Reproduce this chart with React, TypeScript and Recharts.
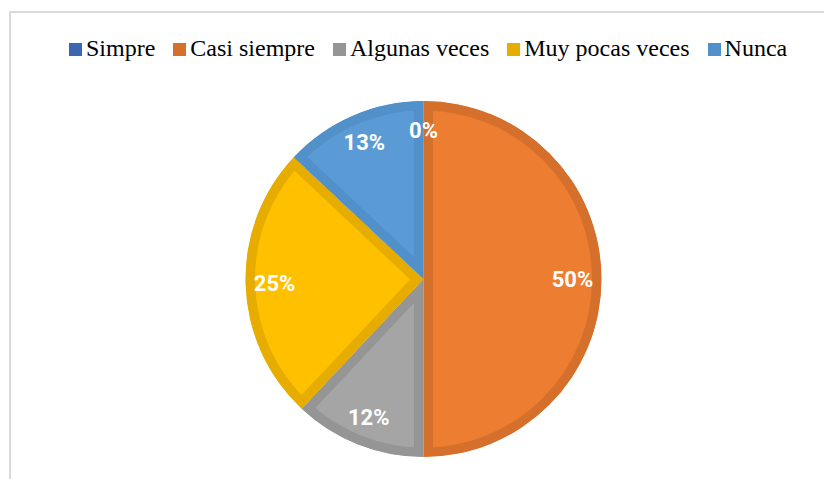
import React from 'react';
import { PieChart, Pie, Cell, Sector } from 'recharts';

// answer categories and their share (%)
const categories = ['Simpre', 'Casi siempre', 'Algunas veces', 'Muy pocas veces', 'Nunca'];
const shares = [0, 50, 12, 25, 13];

const fills = ['#4472C4', '#ED7D31', '#A5A5A5', '#FFC000', '#5B9BD5'];
const borders = ['#3D66B0', '#D5702C', '#959595', '#E6AC00', '#5290CA'];

const data = categories.map((name, i) => ({ name, value: shares[i] }));

const RADIAN = Math.PI / 180;

const renderLabel = (props: any) => {
  const { cx, cy, midAngle, percent } = props;
  const r = 149;
  const x = cx + r * Math.cos(-midAngle * RADIAN);
  const y = cy + r * Math.sin(-midAngle * RADIAN);
  return (
    <text
      x={x}
      y={y}
      fill="#ffffff"
      textAnchor="middle"
      dominantBaseline="central"
      style={{ fontFamily: 'Roboto', fontWeight: 700, fontSize: 22 }}
    >
      {`${Math.round(percent * 100)}%`}
    </text>
  );
};

// slice with an inset border: stroke clipped to the slice itself
const InsetSector = (props: any) => {
  const idx = props.index ?? 0;
  const id = `slice-clip-${idx}`;
  return (
    <g>
      <defs>
        <clipPath id={id}>
          <Sector {...props} stroke="none" />
        </clipPath>
      </defs>
      <Sector
        {...props}
        fill={fills[idx]}
        stroke={borders[idx]}
        strokeWidth={19}
        clipPath={`url(#${id})`}
      />
    </g>
  );
};

const LegendRow = () => (
  <div
    style={{
      position: 'absolute',
      left: 69,
      top: 35,
      display: 'flex',
      alignItems: 'center',
      whiteSpace: 'nowrap',
      fontFamily: '"Liberation Serif", "Times New Roman", serif',
      fontSize: 24,
      color: '#000',
    }}
  >
    {categories.map((c, i) => (
      <div key={c} style={{ display: 'flex', alignItems: 'center', marginRight: 18 }}>
        <span style={{ width: 13, height: 13, background: borders[i], marginRight: 4, marginTop: 2, display: 'inline-block' }} />
        <span>{c}</span>
      </div>
    ))}
  </div>
);

export default function App() {
  return (
    <div style={{ position: 'fixed', left: 0, top: 0, width: 824, height: 479, overflow: 'hidden', background: '#fff' }}>
      <div
        style={{
          position: 'absolute',
          left: 9,
          top: 11,
          width: 900,
          height: 600,
          borderTop: '2px solid #d9d9d9',
          borderLeft: '2px solid #d9d9d9',
        }}
      />
      <div style={{ position: 'absolute', left: 0, top: 0 }}>
        <PieChart width={824} height={479} margin={{ top: 0, right: 0, bottom: 0, left: 0 }}>
          <Pie
            data={data}
            dataKey="value"
            nameKey="name"
            cx={423.5}
            cy={279}
            outerRadius={178}
            startAngle={90}
            endAngle={-270}
            stroke="none"
            shape={InsetSector}
            label={renderLabel}
            labelLine={false}
            isAnimationActive={false}
          >
            {data.map((d, i) => (
              <Cell key={d.name} fill={fills[i]} />
            ))}
          </Pie>
        </PieChart>
      </div>
      <LegendRow />
    </div>
  );
}
